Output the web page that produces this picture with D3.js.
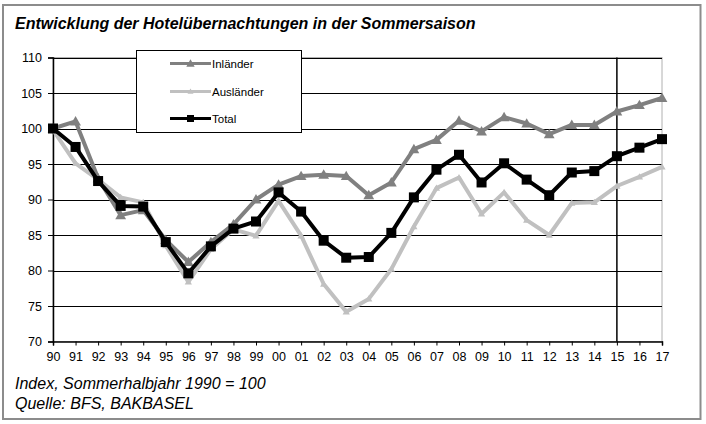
<!DOCTYPE html>
<html><head><meta charset="utf-8">
<script src="https://cdn.jsdelivr.net/npm/d3@7"></script>
<style>body{margin:0;background:#fff}svg{display:block}text{font-family:"Liberation Sans",Arial,sans-serif}</style>
</head><body><svg id="c" width="706" height="424"></svg>
<script>
const years = ["90","91","92","93","94","95","96","97","98","99","00","01","02","03","04","05","06","07","08","09","10","11","12","13","14","15","16","17"];
const inlaender = [100,101.0,93.0,87.8,88.5,84.3,81.2,84.0,86.5,90.0,92.1,93.3,93.5,93.3,90.6,92.4,97.1,98.4,101.1,99.6,101.6,100.7,99.2,100.5,100.5,102.4,103.3,104.3];
const auslaender = [99.8,95.1,92.8,90.3,89.6,83.5,78.4,83.0,85.8,84.9,89.8,84.9,78.1,74.2,76.0,80.2,86.2,91.6,93.1,88.0,91.0,87.1,85.0,89.5,89.6,91.9,93.2,94.6];
const total = [100,97.4,92.6,89.1,89.0,84.0,79.6,83.4,85.9,86.9,91.0,88.3,84.2,81.8,81.9,85.3,90.3,94.2,96.3,92.4,95.1,92.8,90.6,93.8,94.0,96.1,97.3,98.5];
const yTicks = [70,75,80,85,90,95,100,105,110];
const seriesNames = ["Inländer","Ausländer","Total"];
const markerYear = "15";
const title = "Entwicklung der Hotelübernachtungen in der Sommersaison";
const note1 = "Index, Sommerhalbjahr 1990 = 100";
const note2 = "Quelle: BFS, BAKBASEL";

const svg = d3.select("#c");
const L = 53, R = 662, T = 57.5, B = 341.5;
const x = d3.scalePoint().domain(years).range([L, R]);
const y = d3.scaleLinear().domain([70,110]).range([B, T]);

// outer frame
svg.append("rect").attr("x",3).attr("y",5).attr("width",697.5).attr("height",414)
  .attr("fill","#fff").attr("stroke","#8c8c8c").attr("stroke-width",2);

function fit(sel, w){ const n=sel.node(); const cur=n.getComputedTextLength(); const fs=parseFloat(sel.attr("font-size")); sel.attr("font-size", fs*w/cur); }

const t = svg.append("text").attr("x",15).attr("y",29).attr("font-size",15)
  .attr("font-weight","bold").attr("font-style","italic").attr("fill","#000").text(title);
fit(t, 461);

// plot area border
svg.append("rect").attr("x",L).attr("y",T).attr("width",R-L).attr("height",B-T)
  .attr("fill","none").attr("stroke","#b0b0b0").attr("stroke-width",1);

// gridlines
svg.append("g").selectAll("line").data(yTicks.filter(v=>v>70)).join("line")
  .attr("x1",L).attr("x2",R).attr("y1",d=>Math.round(y(d))+0.5).attr("y2",d=>Math.round(y(d))+0.5)
  .attr("stroke","#000").attr("stroke-width",1);

// vertical marker line at 15
svg.append("line").attr("x1",x(markerYear)).attr("x2",x(markerYear)).attr("y1",T).attr("y2",B)
  .attr("stroke","#000").attr("stroke-width",1.5);

// axes
const yAxis = d3.axisLeft(y).tickValues(yTicks).tickSize(5).tickPadding(6).tickFormat(d3.format("d"));
const gy = svg.append("g").attr("transform",`translate(${L},0)`).call(yAxis);
gy.selectAll("text").attr("font-size",12.5).attr("fill","#000");
gy.select(".domain").attr("stroke","#000").attr("stroke-width",1.5);
gy.selectAll(".tick line").attr("stroke","#000");

const xAxis = d3.axisBottom(x).tickSize(4).tickPadding(7);
const gx = svg.append("g").attr("transform",`translate(0,${B})`).call(xAxis);
gx.selectAll("text").attr("font-size",12.5).attr("fill","#000");
gx.select(".domain").attr("stroke","#000").attr("stroke-width",1.5);
gx.selectAll(".tick line").attr("stroke","#000");

const data = [
  {name:seriesNames[0], vals:inlaender, color:"#808080", marker:"tri", size:9},
  {name:seriesNames[1], vals:auslaender, color:"#c0c0c0", marker:"tri", size:6},
  {name:seriesNames[2], vals:total, color:"#000000", marker:"sq", size:10}
];
const line = d3.line().x((d,i)=>x(years[i])).y(d=>y(d));
function drawMarker(g, cx, cy, s){
  if (s.marker==="sq"){
    g.append("rect").attr("x",cx-s.size/2).attr("y",cy-s.size/2).attr("width",s.size).attr("height",s.size).attr("fill",s.color);
  } else {
    const h = s.size;
    g.append("path").attr("d",`M${cx},${cy-h*0.6}L${cx+h*0.6},${cy+h*0.45}L${cx-h*0.6},${cy+h*0.45}Z`).attr("fill",s.color);
  }
}
data.forEach(s=>{
  const g = svg.append("g");
  g.append("path").attr("d",line(s.vals)).attr("fill","none").attr("stroke",s.color).attr("stroke-width",4).attr("stroke-linejoin","round");
  s.vals.forEach((v,i)=>drawMarker(g, x(years[i]), y(v), s));
});

// legend
const lg = svg.append("g");
lg.append("rect").attr("x",136.5).attr("y",50.5).attr("width",165).attr("height",82).attr("fill","#fff").attr("stroke","#000").attr("stroke-width",1);
const ly = [63.5, 91.5, 118.5];
data.forEach((s,i)=>{
  lg.append("line").attr("x1",170).attr("x2",211).attr("y1",ly[i]).attr("y2",ly[i]).attr("stroke",s.color).attr("stroke-width",3);
  drawMarker(lg, 190.5, ly[i], {marker:s.marker,color:s.color,size:s.marker==="sq"?7:(i===0?7:5)});
  lg.append("text").attr("x",212).attr("y",ly[i]+4).attr("font-size",11.5).attr("fill","#000").text(s.name);
});

// notes
const n1 = svg.append("text").attr("x",15).attr("y",389).attr("font-size",14).attr("font-style","italic").attr("fill","#000").text(note1);
fit(n1, 251);
const n2 = svg.append("text").attr("x",15).attr("y",409).attr("font-size",14).attr("font-style","italic").attr("fill","#000").text(note2);
fit(n2, 179);
</script></body></html>
